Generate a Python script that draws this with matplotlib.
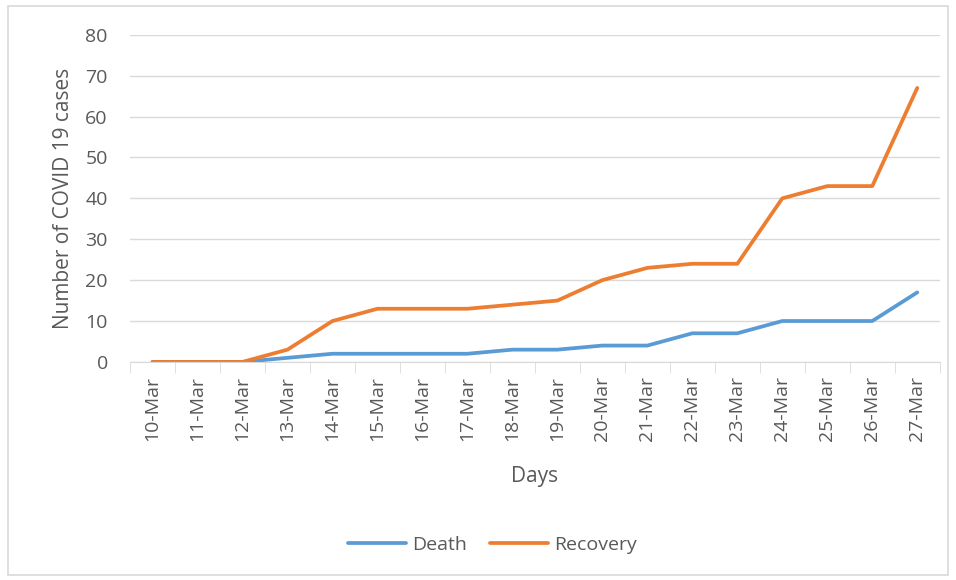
import numpy as np
import matplotlib
matplotlib.use("Agg")
from matplotlib import pyplot as plt
from matplotlib.patches import Rectangle

days = ['10-Mar', '11-Mar', '12-Mar', '13-Mar', '14-Mar', '15-Mar', '16-Mar', '17-Mar', '18-Mar',
        '19-Mar', '20-Mar', '21-Mar', '22-Mar', '23-Mar', '24-Mar', '25-Mar', '26-Mar', '27-Mar']
death = [0, 0, 0, 1, 2, 2, 2, 2, 3, 3, 4, 4, 7, 7, 10, 10, 10, 17]
recovery = [0, 0, 0, 3, 10, 13, 13, 13, 14, 15, 20, 23, 24, 24, 40, 43, 43, 67]

plt.rcParams['font.family'] = ['Open Sans', 'DejaVu Sans']
txt = '#595959'
grid = '#d9d9d9'

fig = plt.figure(figsize=(9.56, 5.8), dpi=100)
fig.patches.append(Rectangle((0.008, 0.008), 0.984, 0.982, transform=fig.transFigure,
                             fill=False, edgecolor='#d9d9d9', linewidth=1.2))
ax = fig.add_axes([0.136, 0.376, 0.847, 0.564])

x = np.arange(len(days))
ax.plot(x, death, color='#5b9bd5', lw=2.7, label='Death', solid_capstyle='round')
ax.plot(x, recovery, color='#ed7d31', lw=2.7, label='Recovery', solid_capstyle='round')

ax.set_xlim(-0.5, len(days) - 0.5)
ax.set_ylim(0, 80)
ax.set_yticks(range(0, 81, 10))
ax.yaxis.grid(True, color=grid, lw=1)
ax.set_axisbelow(True)
for s in ['top', 'right', 'left']:
    ax.spines[s].set_visible(False)
ax.spines['bottom'].set_color(grid)

ax.set_xticks(x)
ax.set_xticklabels(days, rotation=90)
ax.set_xticks(np.arange(-0.5, len(days)), minor=True)
ax.tick_params(axis='x', which='major', length=0, pad=10, labelsize=14, labelcolor=txt)
ax.tick_params(axis='x', which='minor', length=8, color=grid)
ax.tick_params(axis='y', length=0, pad=16, labelsize=14, labelcolor=txt)

ax.set_xlabel('Days', fontsize=15, color=txt, labelpad=18)
ax.set_ylabel('Number of COVID 19 cases', fontsize=15, color=txt, labelpad=8)

fig.legend(loc='center', bbox_to_anchor=(0.515, 0.06), ncol=2, frameon=False,
           fontsize=14, labelcolor=txt, handlelength=3.0, columnspacing=1.2, handletextpad=0.3)

fig.savefig('out.png', dpi=100)
